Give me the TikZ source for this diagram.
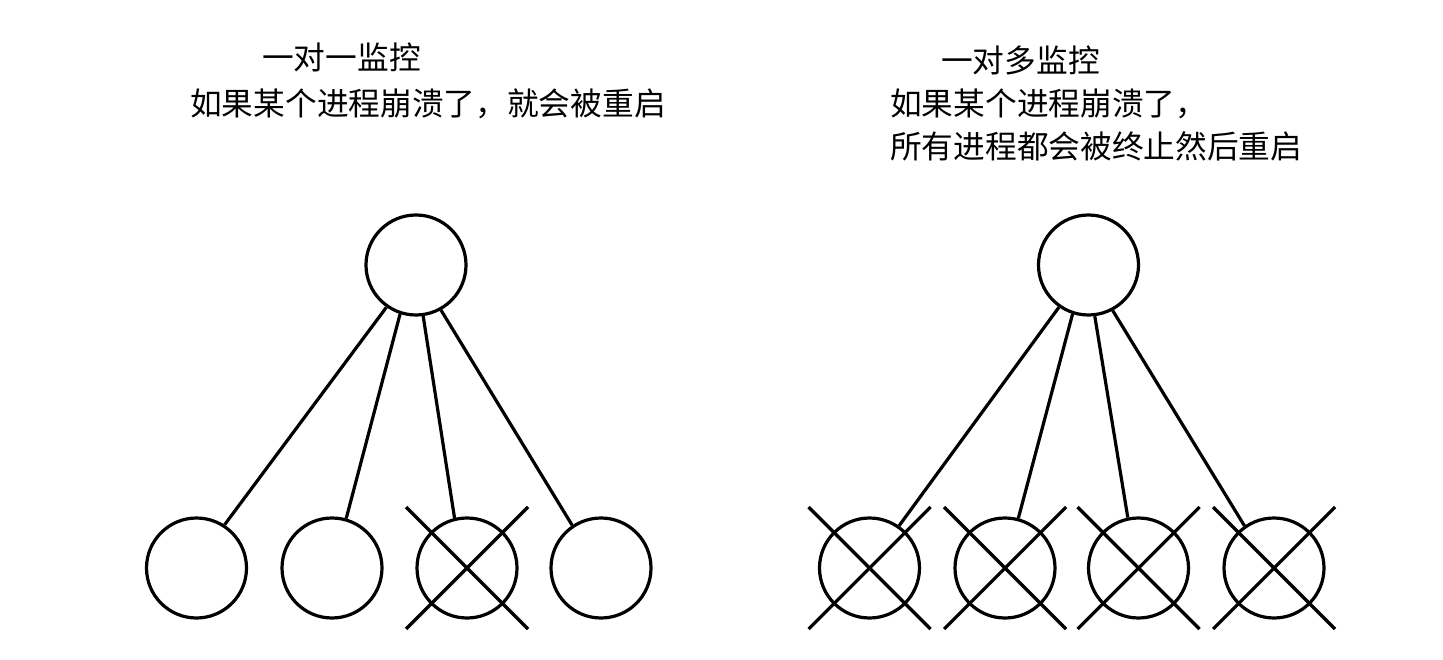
\documentclass[tikz,border=0pt]{standalone}
\usepackage{fontspec}
\newfontfamily\cjk{Noto Sans CJK SC}
\begin{document}
\begin{tikzpicture}[x=1pt,y=-1pt,
  proc/.style={circle,draw,line width=3.2pt,minimum size=100pt,inner sep=0pt},
  link/.style={line width=3.2pt},
  txt/.style={font=\cjk\fontsize{31.7}{43}\selectfont,inner sep=0pt,anchor=west,align=left}]
\useasboundingbox[fill=white] (0,0) rectangle (1443,660);
% left tree
\node[proc] (lt) at (416,265) {};
\node[proc] (l1) at (196.5,568) {};
\node[proc] (l2) at (332,568) {};
\node[proc] (l3) at (467,568) {};
\node[proc] (l4) at (601,568) {};
\draw[link] (lt.235) -- (l1.57);
\draw[link] (lt.252) -- (l2.74);
\draw[link] (lt.278) -- (l3.104);
\draw[link] (lt.299) -- (l4.124);
\draw[link] (l3) ++(-61,-61) -- ++(122,122);
\draw[link] (l3) ++(61,-61) -- ++(-122,122);
% right tree
\node[proc] (rt) at (1088.5,265) {};
\node[proc] (r1) at (869.5,568) {};
\node[proc] (r2) at (1005,568) {};
\node[proc] (r3) at (1138.5,568) {};
\node[proc] (r4) at (1274,568) {};
\draw[link] (rt.235) -- (r1.55);
\draw[link] (rt.252) -- (r2.75);
\draw[link] (rt.277) -- (r3.102);
\draw[link] (rt.298) -- (r4.125);
\foreach \n in {r1,r2,r3,r4}{
  \draw[link] (\n) ++(-61,-61) -- ++(122,122);
  \draw[link] (\n) ++(61,-61) -- ++(-122,122);
}
% texts
\node[txt] (lhead) at (262,57) {一对一监控};
\node[txt] (ldesc) at (190,104) {如果某个进程崩溃了，就会被重启};
\node[txt] (rhead) at (941,60) {一对多监控};
\node[txt,anchor=north west] (rdesc) at (890,89) {如果某个进程崩溃了，\\所有进程都会被终止然后重启};
\end{tikzpicture}
\end{document}
